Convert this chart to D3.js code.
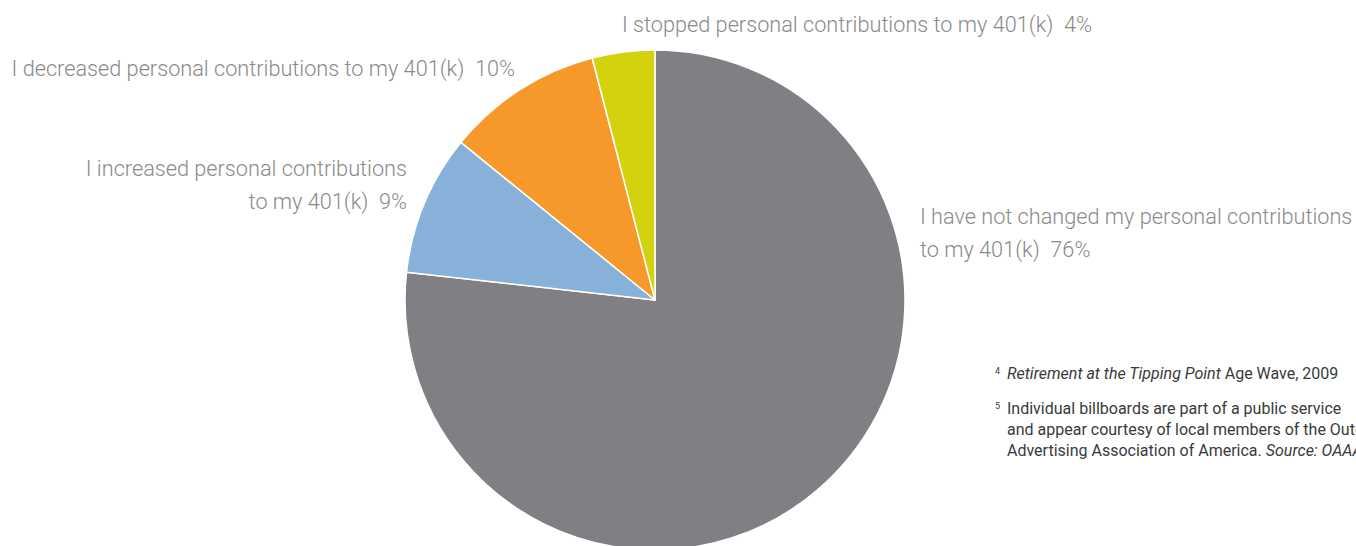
<!DOCTYPE html>
<html>
<head>
<meta charset="utf-8">
<script src="https://cdn.jsdelivr.net/npm/d3@7"></script>
<style>
  html, body { margin: 0; padding: 0; background: #fff; overflow: hidden; }
  svg { display: block; }
  .lbl { font-family: Roboto, "Open Sans", sans-serif; font-weight: 300; fill: #8a8a8a; }
  .note { font-family: Roboto, "Open Sans", sans-serif; fill: #3a3a3a; }
</style>
</head>
<body>
<svg id="chart" width="1356" height="546"></svg>
<script>
// Survey responses: changes to personal 401(k) contributions
const categories = [
  "I have not changed my personal contributions to my 401(k)",
  "I increased personal contributions to my 401(k)",
  "I decreased personal contributions to my 401(k)",
  "I stopped personal contributions to my 401(k)"
];
const values = [76, 9, 10, 4];
const colors = ["#807f83", "#87b1d8", "#f7992a", "#d4d20e"];

// Label text lines (value appended to the last line)
const labelLines = [
  ["I have not changed my personal contributions", "to my 401(k)"],
  ["I increased personal contributions", "to my 401(k)"],
  ["I decreased personal contributions to my 401(k)"],
  ["I stopped personal contributions to my 401(k)"]
];

const svg = d3.select("#chart");
const cx = 655, cy = 300, r = 250;

const pie = d3.pie().sort(null).value(d => d)(values);
const arc = d3.arc().innerRadius(0).outerRadius(r);

const g = svg.append("g").attr("transform", `translate(${cx},${cy})`);
g.selectAll("path")
  .data(pie)
  .join("path")
  .attr("d", arc)
  .attr("fill", (d, i) => colors[i])
  .attr("stroke", "#fff")
  .attr("stroke-width", 1.5)
  .attr("stroke-linejoin", "round");

// Label placement: anchor + position for each slice label
const labelPos = [
  { x: 920, y: 224, anchor: "start" },
  { x: 407, y: 176, anchor: "end" },
  { x: 515, y: 76, anchor: "end" },
  { x: 1092, y: 32, anchor: "end" }
];
const lineH = 33;

labelLines.forEach((lines, i) => {
  const p = labelPos[i];
  const t = svg.append("text")
    .attr("class", "lbl")
    .attr("font-size", 21.7)
    .attr("text-anchor", p.anchor);
  lines.forEach((ln, j) => {
    const last = j === lines.length - 1;
    t.append("tspan")
      .attr("x", p.x)
      .attr("y", p.y + j * lineH)
      .attr("xml:space", "preserve")
      .text(last ? `${ln}  ${values[i]}%` : ln);
  });
});

// Footnotes (the block runs past the right edge of the page)
const notes = [
  { num: "4", parts: [["Retirement at the Tipping Point", true], [" Age Wave, 2009", false]] },
  { num: "5", parts: [["Individual billboards are part of a public service", false]] },
  { num: null, parts: [["and appear courtesy of local members of the Outdoor", false]] },
  { num: null, parts: [["Advertising Association of America. ", false], ["Source: OAAA", true]] }
];
const noteY = [379, 414, 435, 456];
notes.forEach((n, i) => {
  if (n.num) {
    svg.append("text").attr("class", "note")
      .attr("x", 995).attr("y", noteY[i] - 5)
      .attr("font-size", 9).text(n.num);
  }
  const t = svg.append("text").attr("class", "note")
    .attr("x", 1007).attr("y", noteY[i])
    .attr("font-size", 16)
    .attr("xml:space", "preserve");
  n.parts.forEach(([s, it]) => {
    t.append("tspan").attr("font-style", it ? "italic" : "normal").text(s);
  });
});
</script>
</body>
</html>
